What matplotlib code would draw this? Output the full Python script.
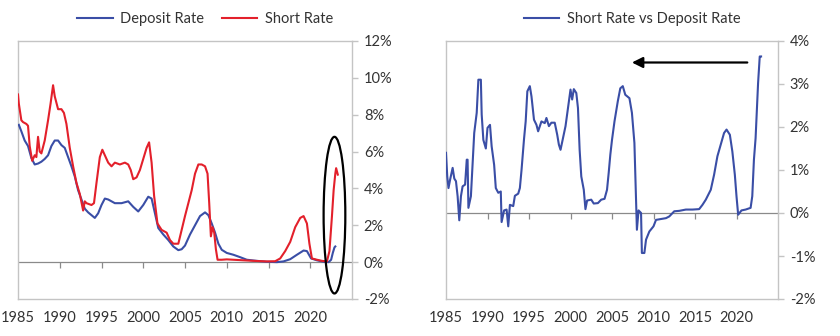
import matplotlib.pyplot as plt
from matplotlib.patches import Ellipse
from matplotlib.ticker import FuncFormatter

# Left panel: deposit rate and short rate (%)
dep_years = [1985.1, 1985.4, 1985.8, 1986.2, 1986.6, 1987.0, 1987.4, 1987.8, 1988.2, 1988.6,
             1989.0, 1989.4, 1989.8, 1990.2, 1990.6, 1991.0, 1991.4, 1991.8, 1992.2, 1992.6,
             1993.0, 1993.4, 1993.8, 1994.2, 1994.6, 1995.0, 1995.4, 1995.8, 1996.6, 1997.4,
             1998.2, 1998.8, 1999.4, 2000.0, 2000.6, 2001.0, 2001.4, 2001.8, 2002.4, 2003.0,
             2003.6, 2004.2, 2004.6, 2005.0, 2005.6, 2006.2, 2006.8, 2007.4, 2007.8, 2008.2,
             2008.6, 2009.0, 2009.4, 2010.0, 2010.8, 2011.6, 2012.4, 2013.6, 2014.8, 2016.0,
             2016.8, 2017.6, 2018.4, 2019.2, 2019.6, 2020.1, 2020.8, 2021.6, 2022.2, 2022.5,
             2022.7, 2022.9, 2023.0]
dep_rate = [7.45, 7.1, 6.6, 6.3, 5.65, 5.3, 5.35, 5.45, 5.6, 5.8,
            6.3, 6.6, 6.6, 6.35, 6.2, 5.7, 5.2, 4.65, 3.9, 3.4,
            2.9, 2.7, 2.55, 2.4, 2.65, 3.1, 3.45, 3.4, 3.2, 3.2,
            3.3, 3.0, 2.75, 3.1, 3.55, 3.45, 2.65, 1.85, 1.5, 1.2,
            0.85, 0.65, 0.7, 0.9, 1.5, 2.0, 2.5, 2.7, 2.55, 2.1,
            1.6, 1.0, 0.67, 0.5, 0.4, 0.27, 0.13, 0.07, 0.02, 0.0,
            0.04, 0.16, 0.4, 0.63, 0.6, 0.2, 0.1, 0.02, 0.0, 0.13,
            0.5, 0.8, 0.85]

short_years = [1985.0, 1985.1, 1985.4, 1985.6, 1986.0, 1986.2, 1986.4, 1986.7, 1987.0, 1987.2,
               1987.4, 1987.6, 1987.8, 1988.2, 1988.6, 1988.9, 1989.2, 1989.4, 1989.8, 1990.2,
               1990.5, 1990.8, 1991.2, 1991.6, 1992.0, 1992.4, 1992.8, 1993.0, 1993.2, 1993.8,
               1994.1, 1994.4, 1994.8, 1995.1, 1995.4, 1995.8, 1996.2, 1996.6, 1997.2, 1997.8,
               1998.2, 1998.5, 1998.8, 1999.2, 1999.6, 2000.0, 2000.4, 2000.7, 2001.0, 2001.3,
               2001.7, 2002.2, 2002.8, 2003.2, 2003.6, 2004.2, 2004.6, 2005.0, 2005.4, 2005.8,
               2006.2, 2006.6, 2007.0, 2007.4, 2007.7, 2007.9, 2008.1, 2008.3, 2008.5, 2008.7,
               2008.9, 2009.4, 2010.0, 2010.8, 2012.0, 2013.2, 2014.8, 2015.8, 2016.4, 2017.0,
               2017.6, 2018.2, 2018.8, 2019.2, 2019.6, 2019.9, 2020.2, 2020.8, 2021.4, 2022.0,
               2022.3, 2022.6, 2022.8, 2023.0, 2023.1, 2023.3]
short_rate = [9.1, 8.6, 7.7, 7.6, 7.5, 7.4, 6.3, 5.5, 5.8, 5.7,
              6.8, 6.0, 5.9, 6.6, 7.7, 8.6, 9.6, 9.0, 8.3, 8.3,
              8.1, 7.5, 6.2, 5.2, 4.3, 3.7, 2.8, 3.3, 3.2, 3.1,
              3.2, 4.3, 5.7, 6.1, 5.8, 5.4, 5.2, 5.4, 5.3, 5.4,
              5.3, 5.0, 4.5, 4.6, 5.0, 5.6, 6.2, 6.5, 5.4, 3.6,
              2.1, 1.75, 1.6, 1.2, 1.0, 1.0, 1.75, 2.5, 3.2, 3.9,
              4.8, 5.3, 5.3, 5.2, 4.8, 3.2, 1.4, 1.9, 1.6, 0.7,
              0.13, 0.13, 0.15, 0.13, 0.1, 0.07, 0.04, 0.05, 0.2, 0.6,
              1.1, 1.9, 2.4, 2.5, 2.1, 1.0, 0.2, 0.13, 0.07, 0.04,
              0.6, 2.5, 3.9, 4.8, 5.1, 4.75]

# Right panel: short rate vs deposit rate spread (%)
spread_years = [1985.0, 1985.15, 1985.3, 1985.5, 1985.8, 1986.0, 1986.2, 1986.4, 1986.6, 1986.8,
                1987.0, 1987.3, 1987.5, 1987.6, 1987.7, 1988.0, 1988.2, 1988.4, 1988.7, 1988.9,
                1989.2, 1989.3, 1989.5, 1989.8, 1990.0, 1990.3, 1990.5, 1990.8, 1991.0, 1991.3,
                1991.6, 1991.7, 1992.0, 1992.3, 1992.5, 1992.7, 1993.1, 1993.3, 1993.7, 1993.9,
                1994.1, 1994.4, 1994.6, 1994.8, 1995.1, 1995.3, 1995.6, 1995.9, 1996.1, 1996.5,
                1996.9, 1997.1, 1997.4, 1997.7, 1998.1, 1998.4, 1998.6, 1998.8, 1999.1, 1999.4,
                1999.7, 2000.0, 2000.2, 2000.4, 2000.7, 2000.9, 2001.1, 2001.3, 2001.6, 2001.8,
                2002.0, 2002.5, 2002.8, 2003.3, 2003.7, 2004.1, 2004.4, 2004.6, 2004.8, 2005.0,
                2005.3, 2005.7, 2006.0, 2006.3, 2006.6, 2007.1, 2007.4, 2007.7, 2007.8, 2008.0,
                2008.2, 2008.5, 2008.6, 2008.9, 2009.1, 2009.5, 2010.0, 2010.3, 2010.9, 2011.5,
                2011.9, 2012.5, 2013.1, 2013.9, 2014.7, 2015.5, 2015.9, 2016.3, 2016.9, 2017.3,
                2017.7, 2018.1, 2018.5, 2018.8, 2019.2, 2019.5, 2019.8, 2020.0, 2020.2, 2020.6,
                2021.1, 2021.7, 2021.9, 2022.1, 2022.3, 2022.5, 2022.6, 2022.8, 2022.96]
spread = [1.4, 0.85, 0.58, 0.78, 1.05, 0.8, 0.74, 0.39, -0.17, 0.39,
          0.62, 0.66, 1.24, 1.24, 0.12, 0.39, 1.12, 1.86, 2.33, 3.1,
          3.1, 2.29, 1.7, 1.5, 1.98, 2.05, 1.55, 1.12, 0.58, 0.47,
          0.5, -0.21, 0.06, 0.08, -0.31, 0.19, 0.16, 0.4, 0.45, 0.58,
          1.0, 1.72, 2.13, 2.83, 2.95, 2.71, 2.17, 2.05, 1.9, 2.13,
          2.09, 2.21, 2.02, 2.1, 2.1, 1.82, 1.59, 1.47, 1.74, 2.02,
          2.44, 2.87, 2.64, 2.88, 2.79, 2.44, 1.47, 0.85, 0.54, 0.09,
          0.29, 0.31, 0.22, 0.23, 0.31, 0.33, 0.54, 0.93, 1.36, 1.7,
          2.13, 2.6, 2.9, 2.95, 2.75, 2.67, 2.33, 1.63, 0.93, -0.39,
          0.06, 0.0, -0.93, -0.93, -0.62, -0.43, -0.31, -0.16, -0.14, -0.12,
          -0.08, 0.04, 0.05, 0.08, 0.08, 0.09, 0.19, 0.31, 0.54, 0.89,
          1.32, 1.59, 1.86, 1.94, 1.82, 1.43, 0.89, 0.39, -0.04, 0.06,
          0.08, 0.12, 0.39, 1.24, 1.74, 2.6, 3.02, 3.64, 3.64]

left_yticks = [-2, 0, 2, 4, 6, 8, 10, 12]
right_yticks = [-2, -1, 0, 1, 2, 3, 4]
xticks = [1985, 1990, 1995, 2000, 2005, 2010, 2015, 2020]

BLUE = '#3a4ea6'
RED = '#e3202b'
TEXT = '#333333'
FRAME = '#c4c4c4'

plt.rcParams['font.family'] = ['Lato', 'DejaVu Sans']
plt.rcParams['font.size'] = 10.5
plt.rcParams['text.color'] = TEXT

fig = plt.figure(figsize=(8.4, 3.36), dpi=100)
ax1 = fig.add_axes([18 / 840, 1 - 299 / 336, 334 / 840, 258 / 336])
ax2 = fig.add_axes([446 / 840, 1 - 299 / 336, 332 / 840, 258 / 336])

pct = FuncFormatter(lambda v, p: '%d%%' % v)


def style(ax, ylim, yticks):
    ax.set_xlim(1985, 2025)
    ax.set_ylim(*ylim)
    for s in ax.spines.values():
        s.set_color(FRAME)
        s.set_linewidth(1.0)
    ax.yaxis.tick_right()
    ax.set_yticks(yticks)
    ax.yaxis.set_major_formatter(pct)
    ax.tick_params(axis='y', which='both', right=True, left=False, length=4.5,
                   width=1.0, color=FRAME, pad=4, labelcolor=TEXT, labelsize=10.5)
    ax.set_xticks(xticks)
    ax.tick_params(axis='x', length=0, pad=9, labelcolor=TEXT, labelsize=10.5)
    ax.axhline(0, color='#8a8a8a', lw=0.9, zorder=1)
    # tick marks hanging from the zero line
    sec = ax.secondary_xaxis((0 - ylim[0]) / (ylim[1] - ylim[0]))
    sec.set_xticks(xticks[1:])
    sec.tick_params(axis='x', length=4, width=0.9, color='#8a8a8a', labelbottom=False,
                    labeltop=False)
    sec.spines['bottom'].set_visible(False)
    sec.spines['top'].set_visible(False)


style(ax1, (-2, 12), left_yticks)
style(ax2, (-2, 4), right_yticks)

ax1.plot(dep_years, dep_rate, color=BLUE, lw=1.5, label='Deposit Rate', zorder=3)
ax1.plot(short_years, short_rate, color=RED, lw=1.5, label='Short Rate', zorder=4)
ax1.add_patch(Ellipse((2022.9, 2.55), 2.6, 8.5, fill=False, ec='black', lw=1.6, zorder=5))

ax2.plot(spread_years, spread, color=BLUE, lw=1.5, label='Short Rate vs Deposit Rate', zorder=3)
ax2.annotate('', xy=(2007.4, 3.5), xytext=(2021.3, 3.5),
             arrowprops=dict(arrowstyle='-|>', color='black', lw=1.6,
                             mutation_scale=16, shrinkA=0, shrinkB=0))

leg_kw = dict(frameon=False, handlelength=2.45, handletextpad=0.5, columnspacing=1.2,
              fontsize=10.5, loc='center')
fig.legend(*ax1.get_legend_handles_labels(), ncol=2,
           bbox_to_anchor=(205 / 840, 1 - 19 / 336), **leg_kw)
fig.legend(*ax2.get_legend_handles_labels(), ncol=1,
           bbox_to_anchor=(632 / 840, 1 - 19 / 336), **leg_kw)

fig.savefig('out.png', dpi=100)
